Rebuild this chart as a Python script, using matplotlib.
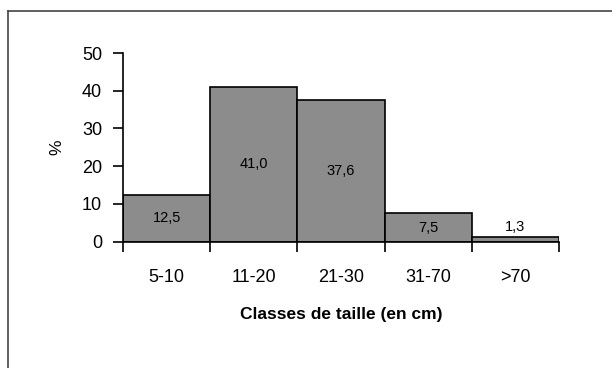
import numpy as np
import matplotlib.pyplot as plt
from matplotlib.lines import Line2D

plt.rcParams['font.family'] = ['Liberation Sans', 'DejaVu Sans']

classes = ['5-10', '11-20', '21-30', '31-70', '>70']
pourcent = [12.5, 41.0, 37.6, 7.5, 1.3]
etiquettes = ['12,5', '41,0', '37,6', '7,5', '1,3']

fig = plt.figure(figsize=(6.12, 3.68), dpi=100)
ax = fig.add_axes([123/612, 1 - 241.7/368, 436/612, 188.7/368])

x = np.arange(len(classes))
ax.bar(x, pourcent, width=1.0, color='#8c8c8c', edgecolor='black', linewidth=1.2)

for xi, v, lab in zip(x, pourcent, etiquettes):
    y = v / 2 if v > 5 else v + 2.6
    ax.text(xi, y, lab, ha='center', va='center', fontsize=10.5)

ax.set_xlim(-0.5, len(classes) - 0.5)
ax.set_ylim(0, 50)
ax.set_yticks([0, 10, 20, 30, 40, 50])

# ticks at class edges, labels at centres
ax.set_xticks(np.arange(len(classes) + 1) - 0.5)
ax.set_xticklabels([])
ax.set_xticks(x, minor=True)
ax.set_xticklabels(classes, minor=True)
ax.tick_params(axis='x', which='major', direction='out', length=7, width=1.2)
ax.tick_params(axis='x', which='minor', length=0, pad=20, labelsize=13)
ax.tick_params(axis='y', direction='out', length=7, width=1.2, pad=8, labelsize=13)

for s in ['top', 'right']:
    ax.spines[s].set_visible(False)
for s in ['left', 'bottom']:
    ax.spines[s].set_linewidth(1.2)

ax.set_ylabel('%', fontsize=12.5, labelpad=13)
ax.set_xlabel('Classes de taille (en cm)', fontsize=12.5, fontweight='bold', labelpad=15)

# outer frame (left and top edges only visible)
fig.add_artist(Line2D([8/612, 8/612], [0, 1 - 11/368], color='#444444', lw=1.2))
fig.add_artist(Line2D([8/612, 1], [1 - 11/368, 1 - 11/368], color='#444444', lw=1.2))

fig.savefig('out.png', dpi=100)
